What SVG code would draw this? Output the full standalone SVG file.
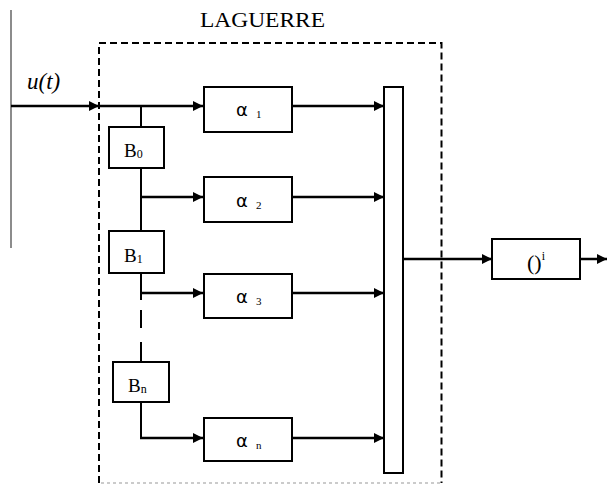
<svg xmlns="http://www.w3.org/2000/svg" width="607" height="486" viewBox="0 0 607 486">
<defs>
<marker id="ah" viewBox="0 0 10 10" refX="10" refY="5" markerWidth="10" markerHeight="10" markerUnits="userSpaceOnUse" orient="auto">
<path d="M0,0 L10,5 L0,10 Z" fill="#000"/>
</marker>
</defs>
<style>
.box{fill:#fff;stroke:#000;stroke-width:2}
.arr{fill:none;stroke:#000;stroke-width:2.5;marker-end:url(#ah)}
.ln{fill:none;stroke:#000;stroke-width:2}
.dash{fill:none;stroke:#000;stroke-width:2;stroke-dasharray:7 4}
.t{font-family:"Liberation Serif",serif;fill:#000}
.a{font-family:"DejaVu Sans",sans-serif;fill:#000}
.s{font-family:"Liberation Serif",serif;font-size:11px}
</style>
<rect width="607" height="486" fill="#fff"/>
<line x1="11" y1="10" x2="11" y2="248" stroke="#666" stroke-width="1.5"/>
<g id="laguerre">
<path class="dash" d="M99,483 V43 H441.5 V483"/>
<line x1="101" y1="483" x2="440" y2="483" stroke="#bbb" stroke-width="1.5" stroke-dasharray="3 3"/>
<text class="t" x="200" y="27" font-size="22" textLength="125" lengthAdjust="spacingAndGlyphs">LAGUERRE</text>
</g>
<text class="t" x="27" y="89" font-size="23" font-style="italic">u(t)</text>
<g id="connectors">
<line class="arr" x1="11" y1="106" x2="99" y2="106"/>
<line class="arr" x1="99" y1="106" x2="203" y2="106"/>
<path class="ln" d="M141,106 V127 M141,168 V231 M141,273 V300" stroke-width="1.8"/>
<path class="ln" d="M141,310 V328 M141,342 V362" stroke-width="1.8"/>
<path class="ln" d="M141,402 V438" stroke-width="1.8"/>
<line class="arr" x1="141" y1="197" x2="203" y2="197"/>
<line class="arr" x1="141" y1="293" x2="203" y2="293"/>
<line class="arr" x1="140" y1="438" x2="203" y2="438"/>
<line class="arr" x1="292" y1="106" x2="384" y2="106"/>
<line class="arr" x1="292" y1="197" x2="384" y2="197"/>
<line class="arr" x1="292" y1="293" x2="384" y2="293"/>
<line class="arr" x1="292" y1="438" x2="384" y2="438"/>
<line class="arr" x1="403" y1="259" x2="492" y2="259"/>
<line class="arr" x1="580" y1="259" x2="607" y2="259"/>
</g>
<g id="a1"><rect class="box" x="204" y="87" width="88" height="45"/><text class="a" x="236" y="116" font-size="18">α<tspan class="s" dx="8" dy="2">1</tspan></text></g>
<g id="a2"><rect class="box" x="204" y="177" width="88" height="45"/><text class="a" x="236" y="207" font-size="18">α<tspan class="s" dx="8" dy="2">2</tspan></text></g>
<g id="a3"><rect class="box" x="204" y="274" width="88" height="44"/><text class="a" x="236" y="303" font-size="18">α<tspan class="s" dx="8" dy="2">3</tspan></text></g>
<g id="an"><rect class="box" x="204" y="418" width="88" height="43"/><text class="a" x="236" y="447" font-size="18">α<tspan class="s" dx="8" dy="2">n</tspan></text></g>
<g id="b0"><rect class="box" x="109" y="127" width="55" height="41"/><text class="t" x="124" y="157" font-size="19">B<tspan font-size="12" dy="1">0</tspan></text></g>
<g id="b1"><rect class="box" x="109" y="231" width="55" height="42"/><text class="t" x="124" y="262" font-size="19">B<tspan font-size="12" dy="1">1</tspan></text></g>
<g id="bn"><rect class="box" x="113" y="362" width="56" height="40"/><text class="t" x="128" y="392" font-size="19">B<tspan font-size="12" dy="1">n</tspan></text></g>
<g id="sum"><rect class="box" x="384" y="87" width="19" height="386"/></g>
<g id="pow"><rect class="box" x="492" y="239" width="88" height="40"/><text class="t" x="527" y="270" font-size="22">()<tspan font-size="12" dy="-10">i</tspan></text></g>
</svg>
